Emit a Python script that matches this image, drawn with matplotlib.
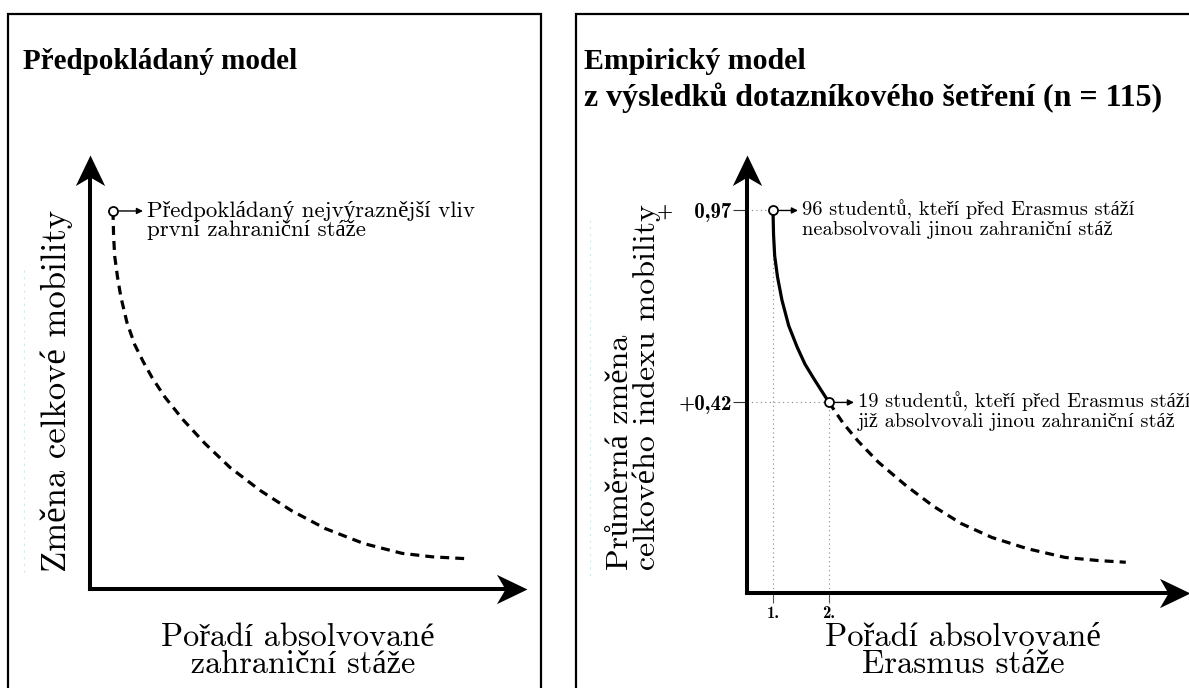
import matplotlib
matplotlib.use("Agg")
import matplotlib.pyplot as plt
from matplotlib.path import Path
import matplotlib.transforms as mtransforms

W, H = 1189, 688

# --- data ---
# right panel: order of the Erasmus internship vs. mean change of total mobility index
emp_x = [1, 2]
emp_y = [0.97, 0.42]
emp_ylabels = ["+   0,97", "+0,42"]
order_labels = ["1.", "2."]
emp_notes = ["96 studentů, kteří před Erasmus stáží\nneabsolvovali jinou zahraniční stáž",
             "19 studentů, kteří před Erasmus stáží\njiž absolvovali jinou zahraniční stáž"]

solid_x = [1.0, 1.01, 1.03, 1.08, 1.16, 1.28, 1.43, 1.57, 1.71, 1.86, 2.0]
solid_y = [0.97, 0.90, 0.84, 0.78, 0.713, 0.64, 0.579, 0.53, 0.493, 0.455, 0.42]

extra_x = [2.0, 2.25, 2.52, 2.88, 3.38, 3.86, 4.36, 4.91, 5.54, 6.21, 6.8, 7.30]
extra_y = [0.42, 0.361, 0.309, 0.249, 0.181, 0.123, 0.073, 0.033, 0.001, -0.024, -0.033, -0.038]

# left panel: assumed model
model_x = [1.0, 1.01, 1.03, 1.08, 1.14, 1.25, 1.39, 1.54, 1.70, 1.93, 2.25, 2.64, 3.09,
           3.63, 4.18, 4.79, 5.48, 6.16, 6.70, 7.27]
model_y = [0.97, 0.901, 0.841, 0.781, 0.724, 0.650, 0.586, 0.538, 0.492, 0.436, 0.372, 0.304,
           0.235, 0.169, 0.112, 0.060, 0.017, -0.011, -0.021, -0.026]
model_note = "Předpokládaný nejvýraznější vliv\nprvní zahraniční stáže"

CM = ["cmr10", "Liberation Serif"]
CMB = ["cmb10", "Liberation Serif"]

fig = plt.figure(figsize=(W / 100, H / 100), dpi=100)

# background axes in pixel units for frames, titles and labels
bg = fig.add_axes([0, 0, 1, 1])
bg.set_xlim(0, W); bg.set_ylim(H, 0); bg.axis("off")

for xs, ys in [([8, 8, 541, 541], [700, 14, 14, 700]),
               ([576, 576, 1200], [700, 14, 14])]:
    bg.plot(xs, ys, color="black", lw=1.6, solid_joinstyle="miter")
# faint scan lines
bg.plot([24, 24], [270, 577], color="#cfe7ef", lw=0.8, ls=(0, (2, 4)))
bg.plot([590, 590], [220, 577], color="#cfe7ef", lw=0.8, ls=(0, (2, 4)))

bg.text(23, 69, "Předpokládaný model", family="Liberation Serif", weight="bold",
        fontsize=21, va="baseline")
bg.text(584, 69, "Empirický model", family="Liberation Serif", weight="bold",
        fontsize=21.5, va="baseline")
bg.text(584, 106, "z výsledků dotazníkového šetření (n = 115)", family="Liberation Serif",
        weight="bold", fontsize=23, va="baseline")

bg.text(57, 391, "Změna celkové mobility", family=CM, fontsize=25, rotation=90,
        ha="center", va="center")
bg.text(634, 570, "Průměrná změna\ncelkového indexu mobility", family=CM, fontsize=23,
        rotation=90, ha="center", va="bottom", multialignment="left", linespacing=0.92)
bg.text(298, 651, "Pořadí absolvované\n zahraniční stáže", family=CM, fontsize=23.3,
        ha="center", va="center", linespacing=0.9)
bg.text(963, 651, "Pořadí absolvované\nErasmus stáže", family=CM, fontsize=23.5,
        ha="center", va="center", linespacing=0.9)

# arrow heads (stealth style)
head_r = Path([(0, 0), (-1, 0.48), (-0.72, 0), (-1, -0.48), (0, 0)],
              [Path.MOVETO, Path.LINETO, Path.LINETO, Path.LINETO, Path.CLOSEPOLY])
head_u = Path([(0, 0), (0.48, -1), (0, -0.72), (-0.48, -1), (0, 0)],
              [Path.MOVETO, Path.LINETO, Path.LINETO, Path.LINETO, Path.CLOSEPOLY])


def make_axes(box, x0, xscale, y0, yscale):
    l, r, t, b = box
    ax = fig.add_axes([l / W, (H - b) / H, (r - l) / W, (b - t) / H])
    ax.set_xlim((l - x0) / xscale, (r - x0) / xscale)
    ax.set_ylim((y0 - b) / yscale, (y0 - t) / yscale)
    ax.patch.set_alpha(0)
    for s in ["top", "right"]:
        ax.spines[s].set_visible(False)
    for s in ["left", "bottom"]:
        ax.spines[s].set_linewidth(2.9)
        ax.spines[s].set_capstyle("projecting")
    xl, yl = ax.get_xlim(), ax.get_ylim()
    ax.spines["bottom"].set_bounds(xl[0], xl[1] - 0.2)
    ax.spines["left"].set_bounds(yl[0], yl[1] - 0.03)
    ax.plot([1], [0], transform=ax.transAxes, marker=head_r, ms=44, color="black",
            mew=0, clip_on=False)
    ax.plot([0], [1], transform=ax.transAxes, marker=head_u, ms=44, color="black",
            mew=0, clip_on=False)
    ax.set_xticks([]); ax.set_yticks([])
    return ax


def note(ax, x, y, text, fs, gap, top, ls):
    start = mtransforms.offset_copy(ax.transData, fig, x=6, y=0, units="dots")
    end = mtransforms.offset_copy(ax.transData, fig, x=gap - 4, y=0, units="dots")
    ax.annotate("", xy=(x, y), xycoords=end, xytext=(x, y), textcoords=start,
                arrowprops=dict(arrowstyle="-|>", lw=1.0, color="black",
                                shrinkA=0, shrinkB=0, mutation_scale=9))
    ax.annotate(text, xy=(x, y), xytext=(gap, top), textcoords="offset pixels",
                family=CM, fontsize=fs, ha="left", va="top", linespacing=ls,
                annotation_clip=False)


# --- left panel ---
axl = make_axes((90, 527, 155, 589), 57, 56, 549.5, 349)
axl.plot(model_x, model_y, color="black", lw=2.3, ls=(0, (2.8, 1.9)))
axl.plot(model_x[0], model_y[0], "o", ms=6.5, mfc="white", mec="black", mew=1.3)
note(axl, model_x[0], model_y[0], model_note, 16.5, 34, 10, 0.88)

# --- right panel ---
axr = make_axes((747, 1190, 155, 593), 717, 56, 549, 349)
xl, yl = axr.get_xlim(), axr.get_ylim()
for x, y in zip(emp_x, emp_y):
    axr.plot([xl[0], x], [y, y], color="#888888", lw=0.8, ls=(0, (1, 3)))
    axr.plot([x, x], [yl[0], y], color="#888888", lw=0.8, ls=(0, (1, 3)))
axr.plot(solid_x, solid_y, color="black", lw=2.3, solid_capstyle="round")
axr.plot(extra_x, extra_y, color="black", lw=2.3, ls=(0, (2.8, 1.9)))
axr.plot(emp_x, emp_y, "o", ms=6.5, mfc="white", mec="black", mew=1.3, zorder=5)
for (x, y), t in zip(zip(emp_x, emp_y), emp_notes):
    note(axr, x, y, t, 14.7, 29, 11, 1.1)

axr.set_xticks(emp_x, order_labels)
axr.set_yticks(emp_y, emp_ylabels)
axr.tick_params(axis="x", direction="out", length=7, width=0.8, color="#555555", pad=2,
                labelsize=12)
axr.tick_params(axis="y", direction="out", length=10, width=0.8, color="#333333", pad=1,
                labelsize=15)
for lab in axr.get_xticklabels() + axr.get_yticklabels():
    lab.set_family(CMB)

fig.savefig("out.png", dpi=100)
